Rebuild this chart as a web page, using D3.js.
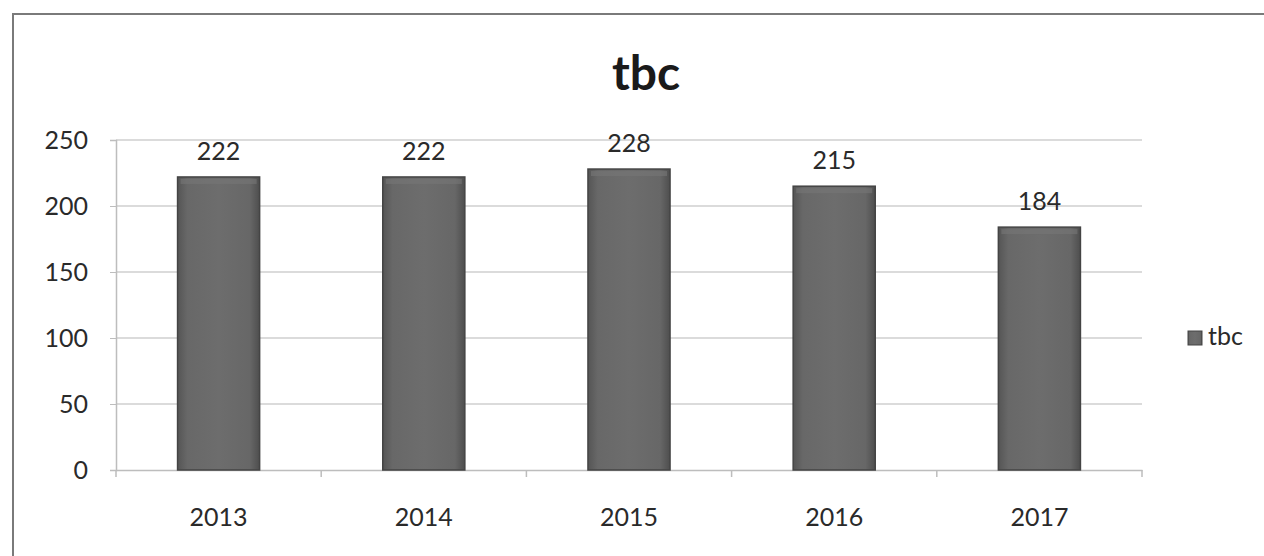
<!DOCTYPE html>
<html>
<head>
<meta charset="utf-8">
<script src="https://cdn.jsdelivr.net/npm/d3@7"></script>
<style>
  html, body { margin: 0; padding: 0; background: #fff; }
  svg { display: block; font-family: Lato, "Open Sans", sans-serif; }
</style>
</head>
<body>
<script>
  // chart values
  let years = ["2013", "2014", "2015", "2016", "2017"];
  let counts = [222, 222, 228, 215, 184];
  let yTicks = [0, 50, 100, 150, 200, 250];
  let seriesName = "tbc";
  let chartTitle = "tbc";

  let svg = d3.select("body")
    .append("svg")
    .attr("width", 1264)
    .attr("height", 556);

  // bar gradient
  let defs = svg.append("defs");
  let grad = defs.append("linearGradient")
    .attr("id", "barGrad")
    .attr("x1", "0").attr("x2", "1").attr("y1", "0").attr("y2", "0");
  grad.append("stop").attr("offset", "0%").attr("stop-color", "#555");
  grad.append("stop").attr("offset", "12%").attr("stop-color", "#686868");
  grad.append("stop").attr("offset", "50%").attr("stop-color", "#6d6d6d");
  grad.append("stop").attr("offset", "88%").attr("stop-color", "#676767");
  grad.append("stop").attr("offset", "100%").attr("stop-color", "#4e4e4e");

  // chart border (scan shows top and left edges)
  svg.append("path")
    .attr("d", "M13,556 L13,14 L1264,14")
    .attr("fill", "none")
    .attr("stroke", "#7a7a7a")
    .attr("stroke-width", 2);

  // title
  svg.append("text")
    .attr("x", 646)
    .attr("y", 90)
    .attr("text-anchor", "middle")
    .attr("font-size", 48)
    .attr("font-weight", "bold")
    .attr("fill", "#1a1a1a")
    .text(chartTitle);

  let xScale = d3.scaleBand()
    .domain(years)
    .range([116, 1142])
    .paddingInner(0.6)
    .paddingOuter(0.3);

  let yScale = d3.scaleLinear()
    .domain([0, 250])
    .range([470, 140]);

  // gridlines
  svg.append("g")
    .selectAll("line")
    .data(yTicks.filter((d) => d > 0))
    .enter()
    .append("line")
    .attr("x1", 116)
    .attr("x2", 1142)
    .attr("y1", (d) => yScale(d))
    .attr("y2", (d) => yScale(d))
    .attr("stroke", "#cfcfcf")
    .attr("stroke-width", 1.5);

  // y axis
  let yAxis = d3.axisLeft(yScale).tickValues(yTicks).tickSize(6).tickPadding(22);
  let gy = svg.append("g")
    .attr("transform", "translate(116,0)")
    .call(yAxis);
  gy.select(".domain").attr("stroke", "#bdbdbd").attr("stroke-width", 1.5);
  gy.selectAll(".tick line").attr("stroke", "#bdbdbd");
  gy.selectAll(".tick text")
    .attr("font-size", 25)
    .attr("fill", "#2a2a2a")
    .attr("font-family", "Lato, sans-serif");

  // x axis
  let xAxis = d3.axisBottom(xScale).tickSize(0).tickPadding(38);
  let gx = svg.append("g")
    .attr("transform", "translate(0,470)")
    .call(xAxis);
  gx.select(".domain").attr("stroke", "#bdbdbd").attr("stroke-width", 1.5);
  gx.selectAll(".tick text")
    .attr("font-size", 25)
    .attr("fill", "#2a2a2a")
    .attr("font-family", "Lato, sans-serif");

  // category separator ticks
  svg.append("g")
    .selectAll("line")
    .data(d3.range(years.length + 1))
    .enter()
    .append("line")
    .attr("x1", (i) => 116 + i * (1026 / years.length))
    .attr("x2", (i) => 116 + i * (1026 / years.length))
    .attr("y1", 470)
    .attr("y2", 477)
    .attr("stroke", "#bdbdbd")
    .attr("stroke-width", 1.5);

  // bars
  svg.append("g")
    .selectAll("rect")
    .data(counts)
    .enter()
    .append("rect")
    .attr("x", (d, i) => xScale(years[i]))
    .attr("y", (d) => yScale(d))
    .attr("width", xScale.bandwidth())
    .attr("height", (d) => yScale(0) - yScale(d))
    .attr("fill", "url(#barGrad)")
    .attr("stroke", "#444")
    .attr("stroke-width", 1.5);

  // soft top bevel
  svg.append("g")
    .selectAll("rect")
    .data(counts)
    .enter()
    .append("rect")
    .attr("x", (d, i) => xScale(years[i]) + 3)
    .attr("y", (d) => yScale(d) + 2)
    .attr("width", xScale.bandwidth() - 6)
    .attr("height", 5)
    .attr("fill", "#767676")
    .attr("opacity", 0.6);

  // value labels
  svg.append("g")
    .selectAll("text")
    .data(counts)
    .enter()
    .append("text")
    .attr("x", (d, i) => xScale(years[i]) + xScale.bandwidth() / 2)
    .attr("y", (d) => yScale(d) - 17)
    .attr("text-anchor", "middle")
    .attr("font-size", 25)
    .attr("fill", "#2a2a2a")
    .text((d) => d);

  // legend
  let legend = svg.append("g").attr("transform", "translate(1188,331)");
  legend.append("rect")
    .attr("width", 14)
    .attr("height", 14)
    .attr("fill", "url(#barGrad)")
    .attr("stroke", "#444");
  legend.append("text")
    .attr("x", 20)
    .attr("y", 14)
    .attr("font-size", 25)
    .attr("fill", "#2a2a2a")
    .text(seriesName);
</script>
</body>
</html>
